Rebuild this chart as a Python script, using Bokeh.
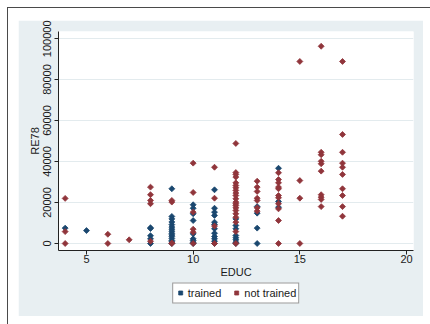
import numpy as np
from bokeh.plotting import figure
from bokeh.models import Range1d, Legend, LegendItem, FixedTicker, NumeralTickFormatter
from bokeh.layouts import column
from bokeh.embed import file_html
from bokeh.resources import INLINE

# ---- data ----
trained_educ = [4, 5,
                8, 8, 8, 8, 8,
                9, 9, 9, 9, 9, 9, 9, 9, 9, 9, 9, 9, 9, 9, 9,
                10, 10, 10, 10, 10, 10, 10, 10, 10,
                11, 11, 11, 11, 11, 11, 11, 11, 11, 11, 11, 11,
                12, 12, 12, 12, 12, 12, 12, 12,
                13, 13, 13, 13,
                14, 14, 14]
trained_re78 = [7500, 6300,
                7700, 7300, 3800, 2300, 0,
                26700, 13200, 12000, 10500, 9200, 8000, 7000, 6000, 5000, 4200, 3500, 2500, 1500, 800, 0,
                18900, 17200, 14500, 11200, 4700, 2300, 1500, 600, 0,
                26200, 17200, 15300, 13700, 10400, 9300, 7200, 5000, 3400, 2300, 1100, 0,
                12000, 8800, 7200, 3900, 2800, 1800, 600, 0,
                18000, 14800, 7500, 0,
                36700, 20500, 17700]

not_trained_educ = [4, 4, 4,
                    6, 6,
                    7,
                    8, 8, 8, 8, 8,
                    9, 9, 9, 9,
                    10, 10, 10, 10, 10, 10,
                    11, 11, 11, 11,
                    12, 12, 12, 12, 12, 12, 12, 12, 12, 12, 12, 12, 12, 12, 12, 12, 12, 12, 12, 12, 12,
                    13, 13, 13, 13, 13, 13, 13,
                    14, 14, 14, 14, 14, 14, 14, 14, 14, 14, 14,
                    15, 15, 15, 15,
                    16, 16, 16, 16, 16, 16, 16, 16, 16, 16,
                    17, 17, 17, 17, 17, 17, 17, 17, 17, 17]
not_trained_re78 = [22000, 5800, 0,
                    4500, 0,
                    1800,
                    27500, 23800, 21000, 19400, 1100,
                    21000, 20200, 200, 0,
                    39200, 24900, 15300, 7000, 5500, 0,
                    37200, 22100, 8500, 0,
                    48800, 34600, 33700, 32400, 29600, 28300, 27200, 25900, 24600, 23400, 21800,
                    20200, 19400, 18500, 17400, 16100, 14500, 12800, 10400, 5800, 0,
                    30400, 27500, 25400, 22100, 21000, 17400, 15800,
                    34500, 31200, 29600, 27500, 26700, 23400, 22300, 19400, 16900, 11200, 0,
                    88800, 30700, 22100, 0,
                    96200, 44500, 43300, 40100, 38900, 35300, 23800, 22600, 21500, 18000,
                    88800, 53200, 44500, 39200, 37200, 33700, 26700, 23400, 18000, 13300]

x_ticks = [5, 10, 15, 20]
y_ticks = [0, 20000, 40000, 60000, 80000, 100000]
series_labels = ["trained", "not trained"]

# ---- style ----
LB = "#e8eff2"
NAVY = "#1a476f"
MAROON = "#90353b"
FONT = "Liberation Sans"
TXT = "#1a1a1a"
MK = dict(marker="square", angle=np.pi / 4, size=4.2, line_width=0.8)

p = figure(width=405, height=296,
           x_range=Range1d(3.6875, 20.328), y_range=Range1d(-3415, 103415),
           output_backend="svg", toolbar_location=None,
           min_border_left=40, min_border_right=10, min_border_top=11, min_border_bottom=66,
           border_fill_color=LB, background_fill_color="white", outline_line_color=None)

# white page margin with a thin dark frame line on the left/top
p.styles = {"margin-left": "18px", "margin-top": "20px",
            "box-shadow": "0 -2px 0 10px #ffffff, 0 -2px 0 11px #4a4a4a"}

p.scatter(trained_educ, trained_re78, fill_color=NAVY, line_color=NAVY, **MK)
p.scatter(not_trained_educ, not_trained_re78, fill_color=MAROON, line_color=MAROON, **MK)

p.xgrid.visible = False
p.ygrid.grid_line_color = "#e3ebee"
p.ygrid.grid_line_width = 1
p.ygrid.ticker = FixedTicker(ticks=y_ticks)

for ax in (p.xaxis[0], p.yaxis[0]):
    ax.axis_line_color = "#222222"
    ax.major_tick_line_color = "#222222"
    ax.major_tick_out = 4
    ax.major_tick_in = 0
    ax.minor_tick_line_color = None
    ax.major_label_text_font = FONT
    ax.major_label_text_font_size = "11px"
    ax.major_label_text_color = TXT
    ax.axis_label_text_font = FONT
    ax.axis_label_text_font_size = "11px"
    ax.axis_label_text_font_style = "normal"
    ax.axis_label_text_color = TXT

p.xaxis.ticker = FixedTicker(ticks=x_ticks)
p.xaxis.axis_label = "EDUC"
p.xaxis.major_label_standoff = 0
p.xaxis.axis_label_standoff = 0

p.yaxis.ticker = FixedTicker(ticks=y_ticks)
p.yaxis.formatter = NumeralTickFormatter(format="0")
p.yaxis.major_label_orientation = "vertical"
p.yaxis.axis_label = "RE78"
p.yaxis.major_label_standoff = 3
p.yaxis.axis_label_standoff = 0

# legend strip, laid over the bottom of the chart (transparent background)
q = figure(width=355, height=23, output_backend="svg", toolbar_location=None,
           x_axis_location=None, y_axis_location=None, min_border=0,
           border_fill_alpha=0, background_fill_alpha=0, outline_line_color=None)
q.grid.visible = False
q.styles = {"margin-left": "43px", "margin-top": "-35px"}
l1 = q.scatter(trained_educ, trained_re78, fill_color=NAVY, line_color=NAVY, visible=False, **MK)
l2 = q.scatter(not_trained_educ, not_trained_re78, fill_color=MAROON, line_color=MAROON,
               visible=False, **MK)
legend = Legend(items=[LegendItem(label=series_labels[0], renderers=[l1]),
                       LegendItem(label=series_labels[1], renderers=[l2])],
                orientation="horizontal", location="center",
                glyph_width=10, glyph_height=10, padding=2, spacing=10, label_standoff=3,
                margin=0, label_text_font=FONT, label_text_font_size="11px",
                label_text_color=TXT, label_height=15,
                border_line_color="#333333", border_line_width=1,
                background_fill_color="white", background_fill_alpha=1,
                inactive_fill_alpha=0)
q.add_layout(legend, "center")

page = column(p, q, spacing=0)
open("out.html", "w").write(file_html(page, INLINE))
